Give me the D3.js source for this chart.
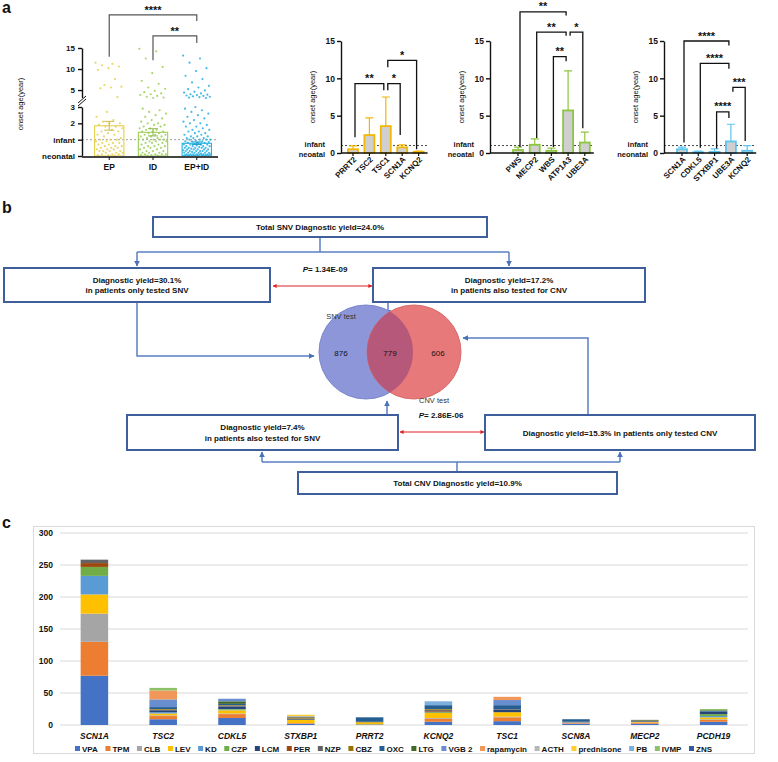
<!DOCTYPE html>
<html><head><meta charset="utf-8">
<script src="https://cdn.jsdelivr.net/npm/d3@7"></script>
<style>body{margin:0;background:#fff}svg{display:block}</style>
</head><body><svg id="fig" width="778" height="762"></svg>
<script>
// ================= DATA =================
// Panel a-1: onset age (years) of individual patients
const a1Groups = ["EP", "ID", "EP+ID"];
const a1Means = [1.85, 1.45, 0.78];
const a1Sem = [0.27, 0.22, 0.08];
const a1EP = [11.5,11.2,10.9,10.6,10.2,9.8,7.6,6.2,5.8,5.6,5.4,3.3,2.7,2.4,2.2,2.1,2.0,2.0,1.9,1.8,1.8,1.7,1.6,1.5,1.5,1.4,1.3,1.3,1.2,1.1,1.0,1.0,1.0,0.9,0.9,0.8,0.8,0.8,0.7,0.7,0.6,0.6,0.6,0.5,0.5,0.5,0.4,0.4,0.4,0.3,0.3,0.3,0.3,0.2,0.2,0.2,0.1,0.1,0.1,0.05,0.05,0.02];
const a1ID = [14.8,14.2,12.5,10.5,9.0,7.2,6.5,5.6,5.3,4.8,4.5,4.2,4.0,3.8,3.6,3.4,3.2,3.1,2.9,2.8,2.7,2.6,2.5,2.4,2.3,2.2,2.1,2.0,2.0,1.9,1.9,1.8,1.8,1.7,1.7,1.6,1.6,1.5,1.5,1.5,1.4,1.4,1.3,1.3,1.3,1.2,1.2,1.2,1.1,1.1,1.0,1.0,1.0,1.0,0.9,0.9,0.9,0.8,0.8,0.8,0.7,0.7,0.6,0.6,0.6,0.5,0.5,0.5,0.4,0.4,0.3,0.3,0.3,0.2,0.2,0.2,0.1,0.1,0.1,0.1,0.05,0.05,0.02,0.02];
const a1EPID = [13.2,12.5,11.5,10.2,9.5,8.4,7.6,6.8,6.0,5.6,5.2,4.9,4.6,4.4,4.2,4.0,3.9,3.8,3.7,3.6,3.5,3.4,3.3,3.2,3.1,3.0,2.9,2.8,2.7,2.6,2.5,2.4,2.3,2.2,2.1,2.0,2.0,1.9,1.8,1.8,1.7,1.6,1.6,1.5,1.5,1.4,1.4,1.3,1.3,1.2,1.2,1.2,1.1,1.1,1.1,1.0,1.0,1.0,1.0,0.95,0.9,0.9,0.9,0.85,0.8,0.8,0.8,0.75,0.7,0.7,0.7,0.7,0.65,0.6,0.6,0.6,0.6,0.55,0.5,0.5,0.5,0.5,0.5,0.45,0.4,0.4,0.4,0.4,0.4,0.35,0.3,0.3,0.3,0.3,0.3,0.3,0.25,0.2,0.2,0.2,0.2,0.2,0.2,0.15,0.1,0.1,0.1,0.1,0.1,0.1,0.1,0.08,0.05,0.05,0.05,0.05,0.05,0.03,0.02,0.02,0.02,0.01,0.01,0.01];
const a1LowTicks = [0, 1, 2, 3];
const a1LowLabels = ["neonatal", "infant", "2", "3"];
const a1HighTicks = [5, 10, 15];
// brackets: [groupA, groupB, level, legA, legB, label]
const a1Brackets = [["EP","EP+ID",22.9,12.9,21.4,"****"],["ID","EP+ID",17.9,12.1,16.2,"**"]];

// Panel a-2..4: mean onset age and upper error
const a2Cats = ["PRRT2","TSC2","TSC1","SCN1A","KCNQ2"];
const a2Means = [0.5, 2.4, 3.6, 0.75, 0.15];
const a2Err = [0.45, 2.3, 3.9, 0.35, 0.1];
const a2Brackets = [["PRRT2","TSC1",9.3,2.1,8.4,"**"],["TSC1","SCN1A",9.3,8.4,2.4,"*"],["TSC1","KCNQ2",12.4,11.5,0.5,"*"]];
const a3Cats = ["PWS","MECP2","WBS","ATP1A3","UBE3A"];
const a3Means = [0.4, 1.1, 0.3, 5.7, 1.4];
const a3Err = [0.4, 0.8, 0.35, 5.3, 1.4];
const a3Brackets = [["PWS","ATP1A3",18.9,0.8,18.4,"**"],["MECP2","ATP1A3",16.2,2.0,15.7,"**"],["WBS","ATP1A3",12.9,0.8,12.3,"**"],["ATP1A3","UBE3A",16.2,15.7,3.3,"*"]];
const a4Cats = ["SCN1A","CDKL5","STXBP1","UBE3A","KCNQ2"];
const a4Means = [0.5, 0.1, 0.15, 1.55, 0.3];
const a4Err = [0.3, 0.15, 0.4, 2.3, 0.7];
const a4Brackets = [["SCN1A","UBE3A",15.0,1.4,14.4,"****"],["CDKL5","UBE3A",12.0,0.7,11.3,"****"],["UBE3A","KCNQ2",8.8,8.2,1.6,"***"],["STXBP1","UBE3A",5.5,0.6,4.7,"****"]];
const aBarTicks = [0, 5, 10, 15];

// Panel b
const vennCounts = [876, 779, 606];
const pValues = ["1.34E-09", "2.86E-06"];

// Panel c: number of patients treated with each drug, per gene
const genes = ["SCN1A","TSC2","CDKL5","STXBP1","PRRT2","KCNQ2","TSC1","SCN8A","MECP2","PCDH19"];
const drugs = ["VPA","TPM","CLB","LEV","KD","CZP","LCM","PER","NZP","CBZ","OXC","LTG","VGB 2","rapamycin","ACTH","prednisone","PB","IVMP","ZNS"];
const cVPA   = [77, 9,11, 2, 1, 5, 6, 2, 2, 5];
const cTPM   = [53, 5, 6, 1, 0, 5, 6, 1, 2, 3];
const cCLB   = [44, 1, 1, 0, 0, 1, 1, 2, 0, 1];
const cLEV   = [30, 3, 5, 5, 3, 8, 7, 0, 1, 3];
const cKD    = [29, 2, 1, 0, 0, 0, 0, 0, 0, 2];
const cCZP   = [14, 0, 1, 0, 0, 1, 0, 0, 0, 3];
const cLCM   = [ 0, 3, 4, 1, 0, 1, 4, 0, 1, 4];
const cPER   = [ 6, 0, 0, 0, 0, 1, 0, 0, 0, 0];
const cNZP   = [ 5, 1, 1, 1, 0, 2, 1, 0, 1, 0];
const cCBZ   = [ 0, 1, 1, 2, 1, 1, 0, 0, 0, 0];
const cOXC   = [ 0, 3, 2, 1, 7, 6, 6, 4, 0, 1];
const cLTG   = [ 0, 0, 4, 0, 0, 0, 0, 0, 1, 1];
const cVGB2  = [ 0,12, 4, 0, 0, 0, 8, 0, 0, 0];
const cRapa  = [ 0,14, 0, 0, 0, 0, 5, 0, 0, 0];
const cACTH  = [ 1, 0, 0, 1, 0, 0, 0, 0, 0, 0];
const cPred  = [ 0, 0, 0, 2, 0, 0, 0, 0, 0, 0];
const cPB    = [ 0, 0, 0, 0, 0, 6, 0, 0, 0, 0];
const cIVMP  = [ 0, 4, 0, 0, 0, 0, 0, 0, 0, 2];
const cZNS   = [ 0, 0, 0, 0, 0, 0, 0, 0, 0, 0];
const cTicks = [0, 50, 100, 150, 200, 250, 300];

// ================= STYLE =================
const FONT = '"Liberation Sans", Arial, Helvetica, sans-serif';
const drugColors = ["#4472C4","#ED7D31","#A5A5A5","#FFC000","#5B9BD5","#70AD47","#264478","#9E480E","#636363","#997300","#255E91","#43682B","#698ED0","#F1975A","#B7B7B7","#FFCD33","#7CAFDD","#8CC168","#335AA1"];

const svg = d3.select("#fig").attr("font-family", FONT);

function txt(g, x, y, s, o = {}) {
  const t = g.append("text").attr("x", x).attr("y", y).text(s)
    .attr("font-size", o.size || 8).attr("font-weight", o.weight || "bold")
    .attr("text-anchor", o.anchor || "start").attr("fill", o.fill || "#111");
  if (o.style) t.attr("font-style", o.style);
  return t;
}
function styleAxis(sel, fs) {
  sel.attr("font-family", FONT).attr("font-size", fs).attr("font-weight", "bold");
  sel.selectAll("path,line").attr("stroke", "#111").attr("stroke-width", 1.4);
  sel.selectAll("text").attr("fill", "#111");
}

// ================= PANEL A =================
txt(svg, 2, 13, "a", {size: 16});
const ga = svg.append("g");

// --- subplot 1 ---
(function () {
  const x0 = 82;
  const yLow = d3.scaleLinear().domain([0, 3]).range([156, 107]);
  const yHigh = d3.scaleLinear().domain([3.2, 15]).range([97.6, 48]);
  const y = v => v <= 3 ? yLow(v) : yHigh(v);
  const x = d3.scaleBand().domain(a1Groups).range([88, 218]).paddingInner(0.33).paddingOuter(0.15);
  const cx = d => x(d) + x.bandwidth() / 2;
  const colors = ["#e6d04e", "#9ccf55", "#22b0e3"];
  const sets = [a1EP, a1ID, a1EPID];

  ga.append("line").attr("x1", x0).attr("x2", 218).attr("y1", y(1)).attr("y2", y(1))
    .attr("stroke", "#999").attr("stroke-dasharray", "2,2").attr("stroke-width", 0.9);

  sets.forEach((vals, gi) => {
    const w = x.bandwidth() - 2;
    ga.append("g").selectAll("circle").data(vals).join("circle")
      .attr("cx", (d, i) => cx(a1Groups[gi]) + (((i * 0.6180339) % 1) - 0.5) * w)
      .attr("cy", d => y(d)).attr("r", 1.1)
      .attr("fill", colors[gi]).attr("opacity", 0.85);
  });
  a1Groups.forEach((g, i) => {
    ga.append("rect").attr("x", x(g)).attr("width", x.bandwidth())
      .attr("y", y(a1Means[i])).attr("height", y(0) - y(a1Means[i]))
      .attr("fill", "none").attr("stroke", colors[i]).attr("stroke-width", 1.1);
    const c = cx(g);
    const yt = y(a1Means[i] + a1Sem[i]), yb = y(a1Means[i] - a1Sem[i]);
    ga.append("path").attr("d", `M${c},${yt}V${yb}M${c - 5},${yt}H${c + 5}M${c - 5},${yb}H${c + 5}`)
      .attr("stroke", d3.color(colors[i]).darker(0.3)).attr("stroke-width", 1).attr("fill", "none");
  });
  const axL = ga.append("g").attr("transform", `translate(${x0},0)`)
    .call(d3.axisLeft(yLow).tickValues(a1LowTicks).tickFormat((d, i) => a1LowLabels[i]).tickSize(4).tickSizeOuter(0));
  styleAxis(axL, 8);
  axL.selectAll(".tick text").attr("x", -7);
  const axH = ga.append("g").attr("transform", `translate(${x0},0)`)
    .call(d3.axisLeft(yHigh).tickValues(a1HighTicks).tickSize(4).tickSizeOuter(0));
  styleAxis(axH, 8);
  axH.selectAll(".tick text").attr("x", -7);
  ga.append("path").attr("d", `M${x0 - 4},${106}L${x0 + 4},${99}M${x0 - 4},${103}L${x0 + 4},${96}`)
    .attr("stroke", "#111").attr("stroke-width", 1);
  ga.append("line").attr("x1", x0).attr("x2", 218).attr("y1", 157).attr("y2", 157).attr("stroke", "#444").attr("stroke-width", 1.8);
  a1Groups.forEach(g => {
    ga.append("line").attr("x1", cx(g)).attr("x2", cx(g)).attr("y1", 157).attr("y2", 160).attr("stroke", "#111");
    txt(ga, cx(g), 170, g, {anchor: "middle", size: 8.5});
  });
  txt(ga, 0, 0, "onset age(year)", {size: 7.5, weight: "normal", anchor: "middle"})
    .attr("transform", "translate(23,104) rotate(-90)");
  a1Brackets.forEach(b => {
    const xa = cx(b[0]), xb = cx(b[1]);
    ga.append("path").attr("d", `M${xa},${y(b[3])}V${y(b[2])}H${xb}V${y(b[4])}`)
      .attr("fill", "none").attr("stroke", "#555").attr("stroke-width", 1.2);
    txt(ga, (xa + xb) / 2, y(b[2]) - 1, b[5], {anchor: "middle", size: 11});
  });
})();

// --- subplots 2-4 ---
function barPanel(x0, c0, step, cats, means, errs, color, zeroLbl, brackets) {
  const g = ga.append("g");
  const y = d3.scaleLinear().domain([0, 15]).range([153, 41]);
  const x = d3.scalePoint().domain(cats).range([c0, c0 + step * (cats.length - 1)]);
  const xEnd = c0 + step * (cats.length - 1) + 9;
  const bw = 10;
  g.append("line").attr("x1", x0).attr("x2", xEnd).attr("y1", y(1)).attr("y2", y(1))
    .attr("stroke", "#333").attr("stroke-dasharray", "2,2").attr("stroke-width", 0.9);
  cats.forEach((c, i) => {
    const cx = x(c);
    const top = y(means[i] + errs[i]);
    g.append("path").attr("d", `M${cx},${y(means[i])}V${top}M${cx - 4},${top}H${cx + 4}`)
      .attr("stroke", color).attr("stroke-width", 1.2).attr("fill", "none");
    g.append("rect").attr("x", cx - bw / 2).attr("width", bw)
      .attr("y", y(means[i])).attr("height", Math.max(0.5, y(0) - y(means[i])))
      .attr("fill", "#cfcfcf").attr("stroke", color).attr("stroke-width", 1.8);
  });
  const ax = g.append("g").attr("transform", `translate(${x0},0)`)
    .call(d3.axisLeft(y).tickValues(aBarTicks).tickSize(4).tickSizeOuter(0));
  styleAxis(ax, 8.5);
  ax.selectAll(".tick text").attr("x", -6);
  txt(g, x0 - 16, y(1) + 1.5, "infant", {anchor: "end", size: 7.5});
  txt(g, x0 - 16, y(0) + 3.5, zeroLbl, {anchor: "end", size: 7.5});
  g.append("line").attr("x1", x0).attr("x2", xEnd).attr("y1", y(0)).attr("y2", y(0)).attr("stroke", "#111").attr("stroke-width", 1.5);
  cats.forEach(c => {
    g.append("line").attr("x1", x(c)).attr("x2", x(c)).attr("y1", y(0)).attr("y2", y(0) + 3).attr("stroke", "#111").attr("stroke-width", 1.2);
    txt(g, 0, 0, c, {anchor: "end", size: 8})
      .attr("transform", `translate(${x(c) + 4},${y(0) + 7}) rotate(-45)`);
  });
  txt(g, 0, 0, "onset age(year)", {size: 7.5, weight: "normal", anchor: "middle"})
    .attr("transform", `translate(${x0 - 26},97) rotate(-90)`);
  brackets.forEach(b => {
    const xa = x(b[0]) + 2, xb = x(b[1]) - 2;
    g.append("path").attr("d", `M${xa},${y(b[3])}V${y(b[2])}H${xb}V${y(b[4])}`)
      .attr("fill", "none").attr("stroke", "#111").attr("stroke-width", 1.3);
    txt(g, (xa + xb) / 2, y(b[2]) - 1.5, b[5], {anchor: "middle", size: 11});
  });
}
barPanel(341, 353, 16.4, a2Cats, a2Means, a2Err, "#f2b705", "neoatal", a2Brackets);
barPanel(490, 518, 16.7, a3Cats, a3Means, a3Err, "#8dc63f", "neoatal", a3Brackets);
barPanel(664, 682, 16.3, a4Cats, a4Means, a4Err, "#5cc6ef", "neonatal", a4Brackets);

// ================= PANEL B =================
txt(svg, 2, 213, "b", {size: 16});
const gb = svg.append("g");
const defs = svg.append("defs");
function marker(id, color) {
  defs.append("marker").attr("id", id).attr("viewBox", "0 0 10 10").attr("refX", 9).attr("refY", 5)
    .attr("markerWidth", 4).attr("markerHeight", 4).attr("orient", "auto-start-reverse")
    .append("path").attr("d", "M0,0L10,5L0,10z").attr("fill", color);
}
marker("arB", "#4a72b8");
marker("arR", "#e02020");
function box(x, y, w, h, lines) {
  gb.append("rect").attr("x", x).attr("y", y).attr("width", w).attr("height", h)
    .attr("fill", "#fff").attr("stroke", "#3f5e9c").attr("stroke-width", 2);
  const cy = y + h / 2;
  lines.forEach((l, i) => txt(gb, x + w / 2, cy + 3 + (i - (lines.length - 1) / 2) * 10.5, l, {anchor: "middle", size: 8}));
}
function conn(d, arrow) {
  const p = gb.append("path").attr("d", d).attr("fill", "none").attr("stroke", "#5a7fc2").attr("stroke-width", 1.5);
  if (arrow) p.attr("marker-end", "url(#arB)");
}
conn("M320,237V252");
conn("M137,252H509");
conn("M137,252V266", true);
conn("M509,252V266", true);
conn("M137,302V356H314", true);
conn("M388,302V315", true);
conn("M588,415V338H463", true);
conn("M387,415V401", true);
conn("M457,472V462");
conn("M262,462H620");
conn("M262,462V452", true);
conn("M620,462V452", true);
gb.append("path").attr("d", "M273,286H372").attr("stroke", "#e02020").attr("stroke-width", 1)
  .attr("marker-start", "url(#arR)").attr("marker-end", "url(#arR)");
gb.append("path").attr("d", "M400,432H484").attr("stroke", "#e02020").attr("stroke-width", 1)
  .attr("marker-start", "url(#arR)").attr("marker-end", "url(#arR)");

const vb = {cx: 366, cy: 352, r: 47}, vr = {cx: 414, cy: 352, r: 47};
defs.append("clipPath").attr("id", "clipB").append("circle").attr("cx", vb.cx).attr("cy", vb.cy).attr("r", vb.r);
gb.append("circle").attr("cx", vb.cx).attr("cy", vb.cy).attr("r", vb.r).attr("fill", "#8c96d9").attr("stroke", "#7c87cf");
gb.append("circle").attr("cx", vr.cx).attr("cy", vr.cy).attr("r", vr.r).attr("fill", "#e8797b").attr("stroke", "#d86b6d");
gb.append("circle").attr("cx", vr.cx).attr("cy", vr.cy).attr("r", vr.r).attr("clip-path", "url(#clipB)").attr("fill", "#b6587a");
txt(gb, 341, 356, vennCounts[0], {anchor: "middle", size: 8, weight: "normal"});
txt(gb, 390, 356, vennCounts[1], {anchor: "middle", size: 8, weight: "normal"});
txt(gb, 438, 356, vennCounts[2], {anchor: "middle", size: 8, weight: "normal"});
txt(gb, 341, 319, "SNV test", {anchor: "middle", size: 7.5, weight: "normal", fill: "#333"});
txt(gb, 434, 403, "CNV test", {anchor: "middle", size: 7.5, weight: "normal", fill: "#333"});

box(153, 217, 334, 20, ["Total SNV Diagnostic yield=24.0%"]);
box(4, 268, 266, 34, ["Diagnostic yield=30.1%", "in patients  only tested SNV"]);
box(373, 268, 272, 34, ["Diagnostic yield=17.2%", "in patients also tested for CNV"]);
box(127, 415, 271, 35, ["Diagnostic yield=7.4%", "in patients also tested for SNV"]);
box(485, 415, 270, 35, ["Diagnostic yield=15.3% in patients only tested CNV"]);
box(298, 472, 319, 22, ["Total CNV Diagnostic yield=10.9%"]);
function pText(x, y, v) {
  const t = gb.append("text").attr("x", x).attr("y", y).attr("text-anchor", "middle")
    .attr("font-size", 8).attr("font-weight", "bold").attr("fill", "#111");
  t.append("tspan").attr("font-style", "italic").text("P");
  t.append("tspan").text("= " + v);
}
pText(325, 272, pValues[0]);
pText(441, 418, pValues[1]);

// ================= PANEL C =================
txt(svg, 2, 528, "c", {size: 16});
const gc = svg.append("g");
gc.append("rect").attr("x", 33.5).attr("y", 526.5).attr("width", 721).attr("height", 227)
  .attr("fill", "none").attr("stroke", "#d9d9d9");
const yc = d3.scaleLinear().domain([0, 300]).range([725, 533]);
const xc = d3.scaleBand().domain(genes).range([60, 748]).paddingInner(0.6).paddingOuter(0.3);
cTicks.forEach(t => {
  gc.append("line").attr("x1", 60).attr("x2", 748).attr("y1", yc(t)).attr("y2", yc(t))
    .attr("stroke", "#d9d9d9").attr("stroke-width", 1);
  txt(gc, 53, yc(t) + 3, t, {anchor: "end", size: 8.5});
});
const drugArrays = [cVPA,cTPM,cCLB,cLEV,cKD,cCZP,cLCM,cPER,cNZP,cCBZ,cOXC,cLTG,cVGB2,cRapa,cACTH,cPred,cPB,cIVMP,cZNS];
const rows = genes.map((g, gi) => {
  const r = {gene: g};
  drugs.forEach((d, di) => r[d] = drugArrays[di][gi]);
  return r;
});
const stack = d3.stack().keys(drugs)(rows);
stack.forEach((layer, li) => {
  gc.append("g").attr("fill", drugColors[li]).selectAll("rect").data(layer).join("rect")
    .attr("x", d => xc(d.data.gene)).attr("width", xc.bandwidth())
    .attr("y", d => yc(d[1])).attr("height", d => yc(d[0]) - yc(d[1]));
});
genes.forEach(g => txt(gc, xc(g) + xc.bandwidth() / 2, 739, g, {anchor: "middle", size: 8.5, style: "italic"}));
const lg = gc.append("g");
const items = drugs.map((d, i) => {
  const t = txt(lg, 0, 752, d, {size: 8});
  return {t, w: t.node().getComputedTextLength(), i};
});
const total = items.reduce((s, it) => s + it.w + 7, 0);
const gap = (712 - 75 - total) / (drugs.length - 1);
let lx = 75;
items.forEach(it => {
  lg.append("rect").attr("x", lx).attr("y", 746).attr("width", 5).attr("height", 5).attr("fill", drugColors[it.i]);
  it.t.attr("x", lx + 7);
  lx += it.w + 7 + gap;
});
</script></body></html>
